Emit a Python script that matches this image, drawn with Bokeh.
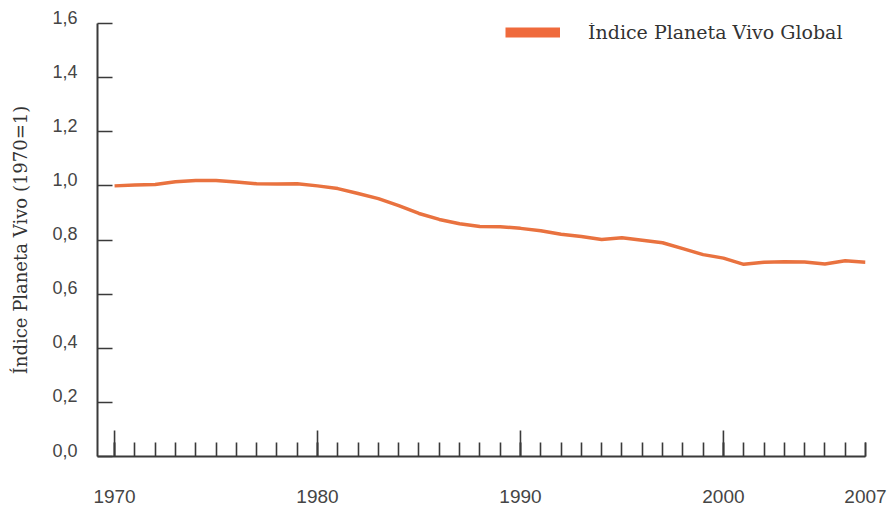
from bokeh.plotting import figure
from bokeh.models import FixedTicker, Legend, LegendItem, Range1d
from bokeh.embed import file_html
from bokeh.resources import INLINE

# ---- data ----
years = list(range(1970, 2008))
lpi = [1.000, 1.003, 1.005, 1.015, 1.020, 1.020, 1.014, 1.008, 1.007, 1.008,
       1.000, 0.990, 0.972, 0.953, 0.927, 0.898, 0.876, 0.860, 0.850, 0.849,
       0.843, 0.834, 0.821, 0.813, 0.802, 0.808, 0.799, 0.790, 0.768, 0.746,
       0.733, 0.710, 0.718, 0.720, 0.719, 0.711, 0.723, 0.718]
y_ticks = [0.0, 0.2, 0.4, 0.6, 0.8, 1.0, 1.2, 1.4, 1.6]
y_tick_labels = ["0,0", "0,2", "0,4", "0,6", "0,8", "1,0", "1,2", "1,4", "1,6"]
x_label_ticks = [1970, 1980, 1990, 2000, 2007]
decade_ticks = [1970, 1980, 1990, 2000]
series_name = "Índice Planeta Vivo Global"
y_title = "Índice Planeta Vivo (1970=1)"

LINE_COLOR = "#e9723f"
AXIS_COLOR = "#3a3a3a"
LABEL_COLOR = "#454545"
SERIF = "DejaVu Serif"
SANS = "Liberation Sans"

p = figure(width=887, height=505, output_backend="svg", toolbar_location=None,
           x_range=Range1d(1969.16, 2007), y_range=Range1d(0, 1.6),
           min_border_left=97, min_border_right=22, min_border_top=23,
           min_border_bottom=49)
p.outline_line_color = None
p.xgrid.visible = False
p.ygrid.visible = False
p.background_fill_color = "white"

# main line
r = p.line(years, lpi, line_color=LINE_COLOR, line_width=3.5, line_join="round")

# longer decade ticks on the x axis (drawn from the tick list)
tick_len = 26 / 270.6
p.segment(x0=decade_ticks, y0=[0] * len(decade_ticks), x1=decade_ticks,
          y1=[tick_len] * len(decade_ticks), line_color=AXIS_COLOR, line_width=1.6)

# x axis
xa = p.xaxis[0]
xa.ticker = FixedTicker(ticks=x_label_ticks, minor_ticks=years)
xa.axis_line_color = AXIS_COLOR
xa.axis_line_width = 2
xa.major_tick_in = 14
xa.major_tick_out = 0
xa.minor_tick_in = 14
xa.minor_tick_out = 0
xa.major_tick_line_color = AXIS_COLOR
xa.major_tick_line_width = 1.6
xa.minor_tick_line_color = AXIS_COLOR
xa.minor_tick_line_width = 1.6
xa.major_label_standoff = 33
xa.major_label_text_font = SANS
xa.major_label_text_font_size = "19px"
xa.major_label_text_color = LABEL_COLOR

# y axis (labels sit just above their ticks)
ya = p.yaxis[0]
ya.ticker = FixedTicker(ticks=y_ticks, minor_ticks=[])
ya.major_label_overrides = {t: s + "\n" for t, s in zip(y_ticks, y_tick_labels)}
ya.axis_line_color = AXIS_COLOR
ya.axis_line_width = 2
ya.major_tick_in = 15
ya.major_tick_out = 0
ya.major_tick_line_color = AXIS_COLOR
ya.major_tick_line_width = 1.6
ya.major_label_standoff = 20
ya.major_label_text_font = SANS
ya.major_label_text_font_size = "18px"
ya.major_label_text_line_height = 0.6
ya.major_label_text_color = LABEL_COLOR
ya.axis_label = y_title
ya.axis_label_text_font = SERIF
ya.axis_label_text_font_style = "normal"
ya.axis_label_text_font_size = "18px"
ya.axis_label_text_color = "#333333"
ya.axis_label_standoff = 18

# legend (thick bar); proxy renderer draws nothing in the plot
leg_r = p.line(x=[years[0]], y=[float("nan")], line_color="#ef6a3c",
               line_width=10, line_cap="butt")
legend = Legend(items=[LegendItem(label=series_name, renderers=[leg_r])],
                location=(408, 409), orientation="vertical",
                glyph_width=55, glyph_height=30, label_height=30,
                label_standoff=28, padding=0, margin=0, spacing=0,
                border_line_color=None, background_fill_alpha=0,
                label_text_font=SERIF, label_text_font_size="19px",
                label_text_color="#333333")
p.add_layout(legend)

open("out.html", "w").write(file_html(p, INLINE))
